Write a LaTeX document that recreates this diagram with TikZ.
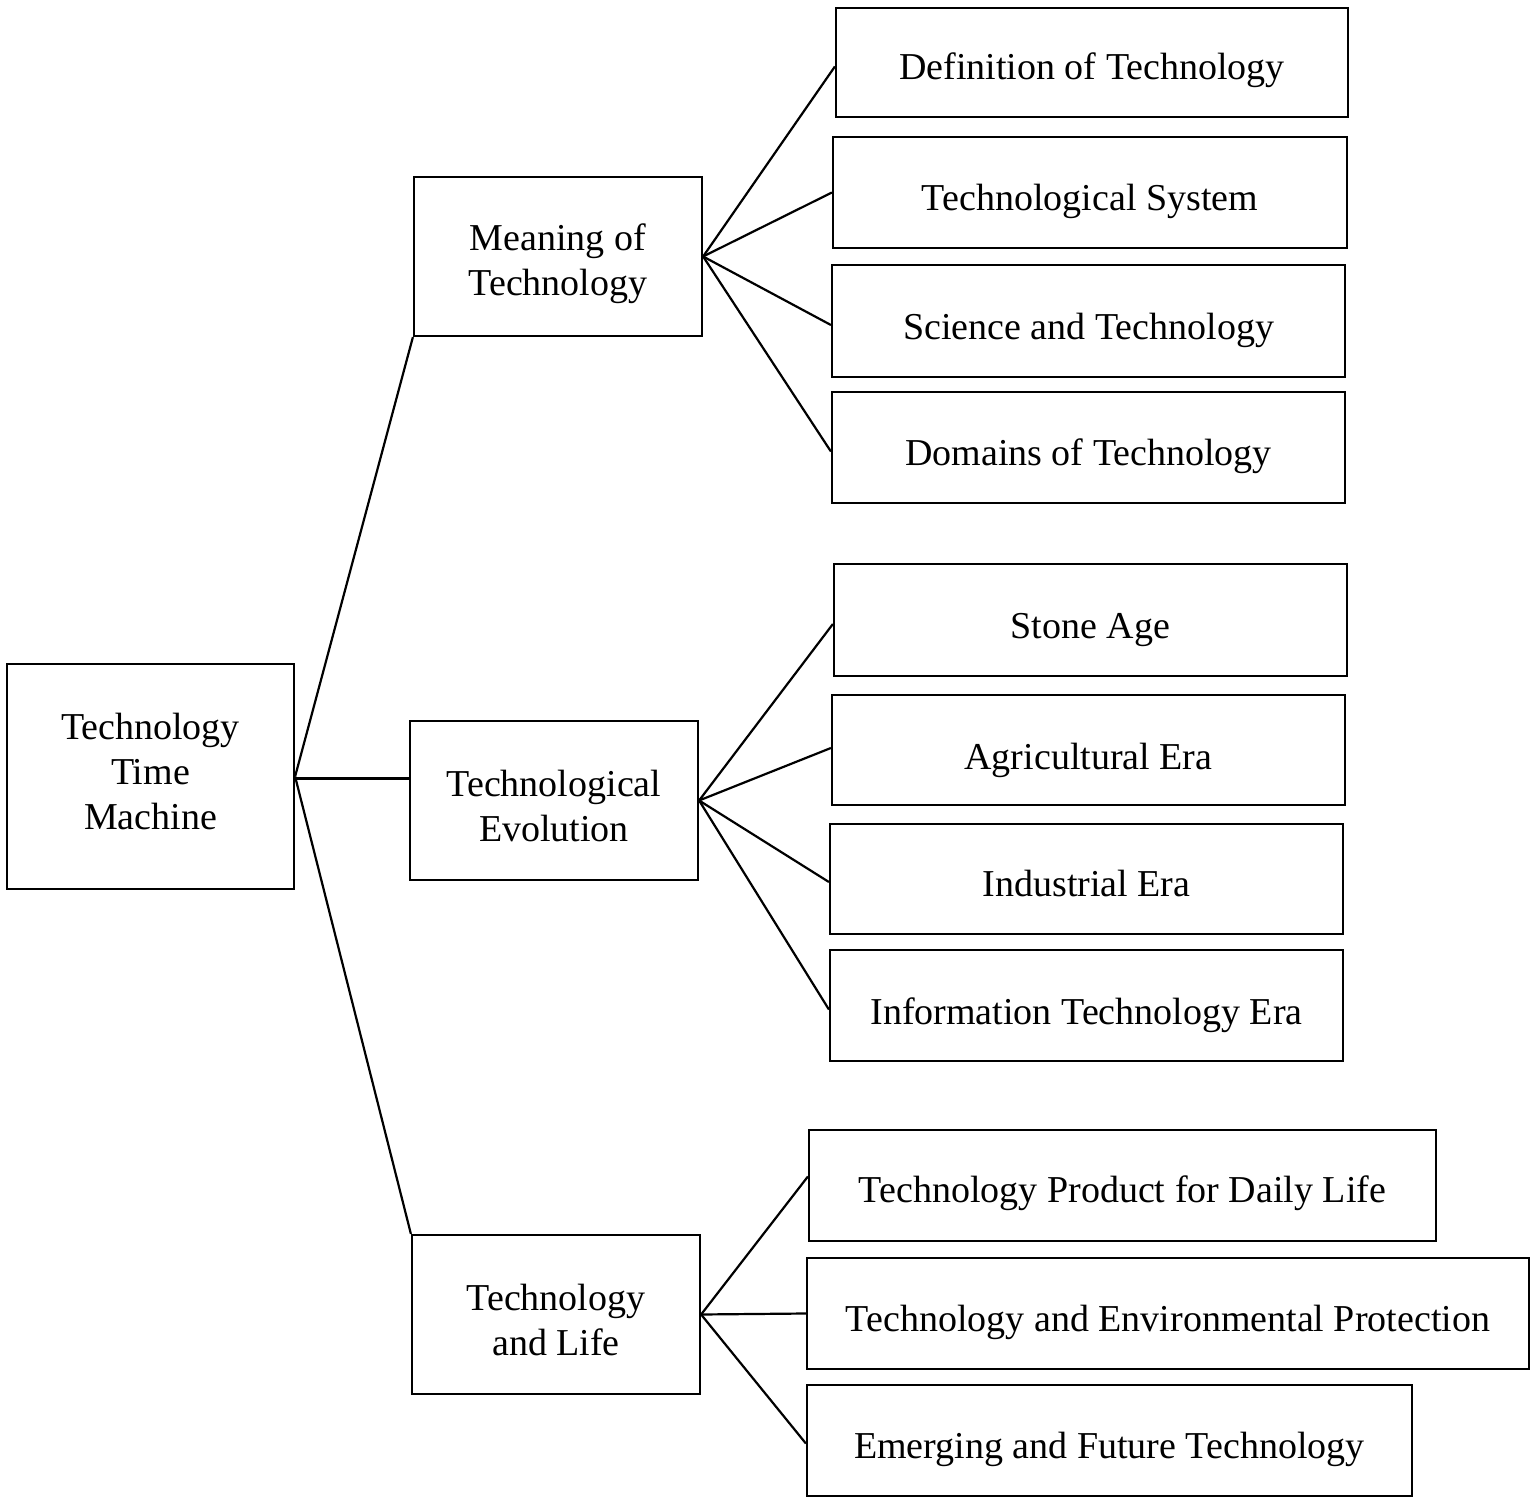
\documentclass[tikz,border=0pt]{standalone}
\usepackage{fontspec}
\setmainfont{Liberation Serif}
\begin{document}
\begin{tikzpicture}[x=1pt,y=-1pt,
  box/.style={draw, line width=2.2pt, inner sep=0pt},
  txt/.style={inner sep=0pt, align=center, font=\fontsize{38}{45}\selectfont},
  conn/.style={line width=2.2pt}]
\useasboundingbox (0,0) rectangle (1535,1503);
\node[box, minimum width=287, minimum height=225] (root) at (150.5,776.5) {};
\node[box, minimum width=288, minimum height=159] (m1) at (558,256.5) {};
\node[box, minimum width=288, minimum height=159] (m2) at (554,800.5) {};
\node[box, minimum width=288, minimum height=159] (m3) at (556,1314.5) {};
\node[box, minimum width=512, minimum height=109] (l1) at (1092,62.5) {};
\node[box, minimum width=514, minimum height=111] (l2) at (1090,192.5) {};
\node[box, minimum width=513, minimum height=112] (l3) at (1088.5,321) {};
\node[box, minimum width=513, minimum height=111] (l4) at (1088.5,447.5) {};
\node[box, minimum width=513, minimum height=112] (l5) at (1090.5,620) {};
\node[box, minimum width=513, minimum height=110] (l6) at (1088.5,750) {};
\node[box, minimum width=513, minimum height=110] (l7) at (1086.5,879) {};
\node[box, minimum width=513, minimum height=111] (l8) at (1086.5,1005.5) {};
\node[box, minimum width=627, minimum height=111] (l9) at (1122.5,1185.5) {};
\node[box, minimum width=722, minimum height=111] (l10) at (1168,1313.5) {};
\node[box, minimum width=605, minimum height=111] (l11) at (1109.5,1440.5) {};
% texts
\node[txt] (troot) at ([yshift=5pt]root.center) {Technology\\Time\\Machine};
\node[txt] (tm1) at ([yshift=-7pt]m1.center) {Meaning of\\Technology};
\node[txt] (tm2) at ([yshift=-5pt]m2.center) {Technological\\Evolution};
\node[txt] (tm3) at ([yshift=-5pt]m3.center) {Technology\\and Life};
\node[txt] (tl1) at ([yshift=-8pt]l1.center) {Definition of Technology};
\node[txt] (tl2) at ([yshift=-9pt]l2.center) {Technological System};
\node[txt] (tl3) at ([yshift=-9pt]l3.center) {Science and Technology};
\node[txt] (tl4) at ([yshift=-9pt]l4.center) {Domains of Technology};
\node[txt] (tl5) at ([yshift=-10pt]l5.center) {Stone Age};
\node[txt] (tl6) at ([yshift=-10pt]l6.center) {Agricultural Era};
\node[txt] (tl7) at ([yshift=-4pt]l7.center) {Industrial Era};
\node[txt] (tl8) at ([yshift=-10pt]l8.center) {Information Technology Era};
\node[txt] (tl9) at ([yshift=-8pt]l9.center) {Technology Product for Daily Life};
\node[txt] (tl10) at ([yshift=-9pt]l10.center) {Technology and Environmental Protection};
\node[txt] (tl11) at ([yshift=-9pt]l11.center) {Emerging and Future Technology};
% connectors
\draw[conn] (root.east) -- (m1.south west);
\draw[conn] ([yshift=-2pt]root.east) -- ([yshift=-2pt]m2.west |- root.east);
\draw[conn] (root.east) -- (m3.north west);
\draw[conn] (m1.east) -- ([yshift=-4pt]l1.west);
\draw[conn] (m1.east) -- (l2.west);
\draw[conn] (m1.east) -- ([yshift=-4pt]l3.west);
\draw[conn] (m1.east) -- ([yshift=-4pt]l4.west);
\draw[conn] (m2.east) -- ([yshift=-4pt]l5.west);
\draw[conn] (m2.east) -- ([yshift=2pt]l6.west);
\draw[conn] (m2.east) -- ([yshift=-3pt]l7.west);
\draw[conn] (m2.east) -- ([yshift=-4pt]l8.west);
\draw[conn] (m3.east) -- ([yshift=9pt]l9.west);
\draw[conn] (m3.east) -- (l10.west);
\draw[conn] (m3.east) -- ([yshift=-3pt]l11.west);
\end{tikzpicture}
\end{document}
